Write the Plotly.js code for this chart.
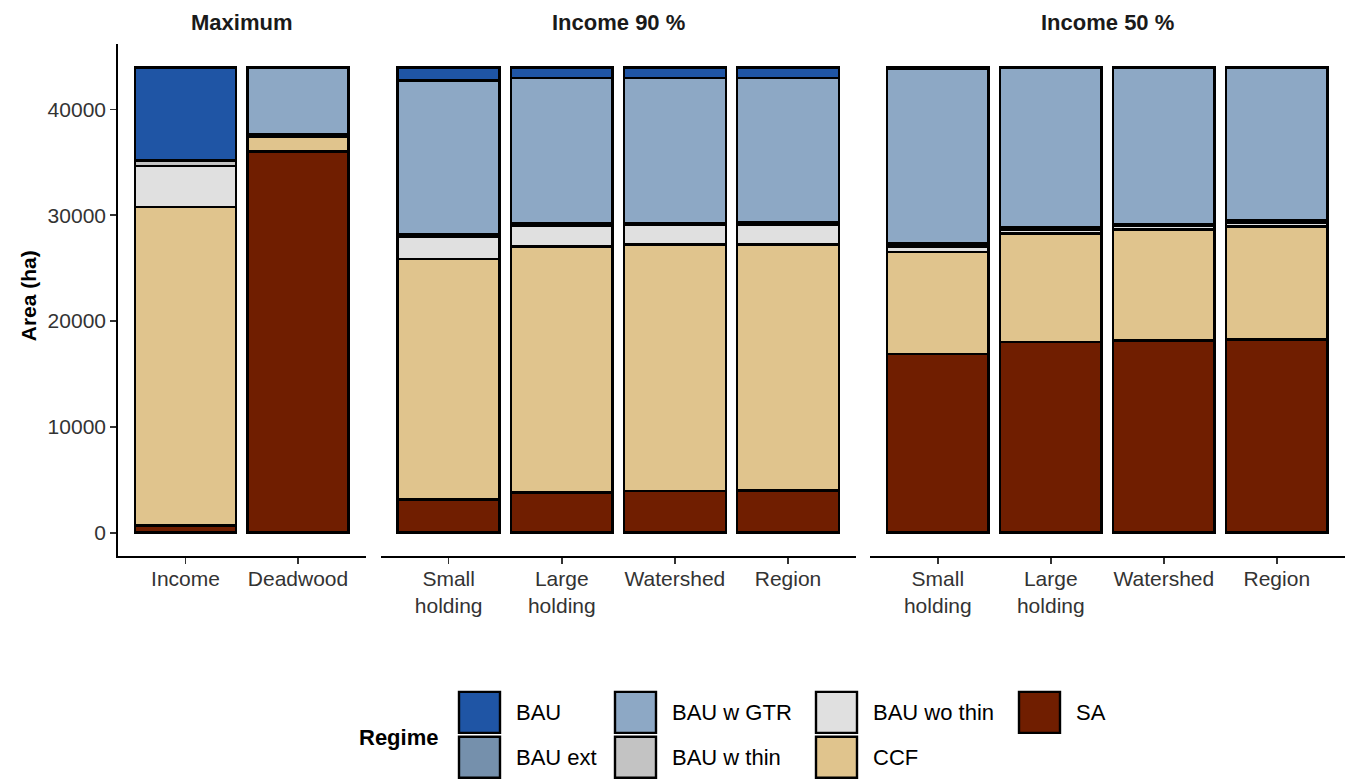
<!DOCTYPE html>
<html>
<head>
<meta charset="utf-8">
<script src="https://cdn.plot.ly/plotly-3.0.1.min.js"></script>
<style>html,body{margin:0;padding:0;background:#fff;}#chart{width:1347px;height:780px;}</style>
</head>
<body>
<div id="chart"></div>
<script>
// ---- data ----
const regimes = ["BAU", "BAU ext", "BAU w GTR", "BAU w thin", "BAU wo thin", "CCF", "SA"];
const regimeColors = ["#1F55A5", "#7590AC", "#8DA8C5", "#C3C3C3", "#E0E0E0", "#E0C48D", "#701E00"];
const panelTitles = ["Maximum", "Income 90 %", "Income 50 %"];

const maxCats = ["Income", "Deadwood"];
const inc90Cats = ["Small<br>holding", "Large<br>holding", "Watershed", "Region"];
const inc50Cats = ["Small<br>holding", "Large<br>holding", "Watershed", "Region"];

// Maximum panel (ha)
const maxBAU      = [8785, null];
const maxBAUext   = [null, null];
const maxGTR      = [null, 6355];
const maxWThin    = [530, null];
const maxWoThin   = [3900, 160];
const maxCCF      = [30060, 1420];
const maxSA       = [700, 36040];

// Income 90 % panel (ha)
const i90BAU      = [1225, 1010, 1010, 1010];
const i90BAUext   = [null, null, null, null];
const i90GTR      = [14520, 13765, 13700, 13655];
const i90WThin    = [230, 145, 165, 160];
const i90WoThin   = [2130, 2010, 1870, 1890];
const i90CCF      = [22745, 23250, 23300, 23275];
const i90SA       = [3125, 3795, 3930, 3985];

// Income 50 % panel (ha)
const i50BAU      = [180, 60, 60, 60];
const i50BAUext   = [null, null, null, null];
const i50GTR      = [16450, 15110, 14780, 14450];
const i50WThin    = [285, 140, 140, 140];
const i50WoThin   = [535, 380, 380, 380];
const i50CCF      = [9635, 10290, 10460, 10700];
const i50SA       = [16900, 18010, 18170, 18260];

const yTicks = [0, 10000, 20000, 30000, 40000];

// ---- build ----
const W = 1347, H = 780, TOP = 43.5, BOT = 556;
const px = x => x / W;
const py = y => (BOT - y) / (BOT - TOP);

const panels = [
  {cats: maxCats, xa: 'x', ya: 'y', vals: {"BAU": maxBAU, "BAU ext": maxBAUext, "BAU w GTR": maxGTR, "BAU w thin": maxWThin, "BAU wo thin": maxWoThin, "CCF": maxCCF, "SA": maxSA}},
  {cats: inc90Cats, xa: 'x2', ya: 'y2', vals: {"BAU": i90BAU, "BAU ext": i90BAUext, "BAU w GTR": i90GTR, "BAU w thin": i90WThin, "BAU wo thin": i90WoThin, "CCF": i90CCF, "SA": i90SA}},
  {cats: inc50Cats, xa: 'x3', ya: 'y3', vals: {"BAU": i50BAU, "BAU ext": i50BAUext, "BAU w GTR": i50GTR, "BAU w thin": i50WThin, "BAU wo thin": i50WoThin, "CCF": i50CCF, "SA": i50SA}}
];

const traces = [];
panels.forEach(p => {
  // stack bottom to top: SA first ... BAU last
  for (let i = regimes.length - 1; i >= 0; i--) {
    const r = regimes[i];
    traces.push({
      type: 'bar', name: r, x: p.cats, y: p.vals[r], xaxis: p.xa, yaxis: p.ya,
      marker: {color: regimeColors[i], line: {color: '#000', width: 2.6}},
      showlegend: false, hoverinfo: 'x+y+name'
    });
  }
});

const fontFam = 'Liberation Sans, Arial, sans-serif';
const tickFont = {family: fontFam, size: 21, color: '#333'};
const xBase = {type: 'category', showline: true, linecolor: '#000', linewidth: 1.8, ticks: 'outside',
  ticklen: 6, tickwidth: 1.6, tickcolor: '#333', showgrid: false, zeroline: false, tickfont: tickFont,
  ticklabelstandoff: -3, fixedrange: true};

const layout = {
  width: W, height: H,
  margin: {l: 0, r: 0, t: TOP, b: H - BOT, pad: 0},
  barmode: 'stack', bargap: 0.1,
  plot_bgcolor: '#fff', paper_bgcolor: '#fff',
  font: {family: fontFam, size: 21, color: '#333'},
  showlegend: false,
  xaxis: Object.assign({}, xBase, {domain: [px(118), px(365.5)], range: [-0.6, maxCats.length - 0.4], anchor: 'y'}),
  xaxis2: Object.assign({}, xBase, {domain: [px(380.8), px(855.9)], range: [-0.6, inc90Cats.length - 0.4], anchor: 'y2'}),
  xaxis3: Object.assign({}, xBase, {domain: [px(870), px(1344.6)], range: [-0.6, inc50Cats.length - 0.4], anchor: 'y3'}),
  yaxis: {domain: [0, 1], range: [-2199, 46179], showline: true, linecolor: '#000', linewidth: 1.8,
    ticks: 'outside', ticklen: 6, tickwidth: 1.6, tickcolor: '#333', tickvals: yTicks, tickformat: 'd',
    showgrid: false, zeroline: false, tickfont: tickFont, anchor: 'x', fixedrange: true},
  yaxis2: {matches: 'y', anchor: 'x2', domain: [0, 1], showline: false, showticklabels: false, ticks: '', showgrid: false, zeroline: false},
  yaxis3: {matches: 'y', anchor: 'x3', domain: [0, 1], showline: false, showticklabels: false, ticks: '', showgrid: false, zeroline: false},
  shapes: [],
  annotations: []
};

// facet titles
const titleX = [241.75, 618.3, 1107.3];
panelTitles.forEach((t, i) => {
  layout.annotations.push({text: '<b>' + t + '</b>', xref: 'paper', yref: 'paper', x: px(titleX[i]), y: py(22),
    xanchor: 'center', yanchor: 'middle', showarrow: false, font: {family: fontFam, size: 22, color: '#1a1a1a'}});
});

// y axis title
layout.annotations.push({text: '<b>Area (ha)</b>', xref: 'paper', yref: 'paper', x: px(28), y: py(296),
  xanchor: 'center', yanchor: 'middle', textangle: -90, showarrow: false, font: {family: fontFam, size: 21, color: '#000'}});

// legend (drawn manually, ggplot style: filled by column, 2 rows)
layout.annotations.push({text: '<b>Regime</b>', xref: 'paper', yref: 'paper', x: px(357), y: py(738),
  xanchor: 'left', yanchor: 'middle', showarrow: false, font: {family: fontFam, size: 22, color: '#000'}});
const colKeyX = [459, 615, 816, 1019];
const rowKeyY = [692, 737];
const keySize = 41;
regimes.forEach((r, i) => {
  const c = Math.floor(i / 2), row = i % 2;
  const x0 = colKeyX[c], y0 = rowKeyY[row];
  layout.shapes.push({type: 'rect', xref: 'paper', yref: 'paper', x0: px(x0), x1: px(x0 + keySize),
    y0: py(y0), y1: py(y0 + keySize), fillcolor: regimeColors[i], line: {color: '#000', width: 2.4}});
  layout.annotations.push({text: r, xref: 'paper', yref: 'paper', x: px(x0 + keySize + 14), y: py(y0 + keySize / 2),
    xanchor: 'left', yanchor: 'middle', showarrow: false, font: {family: fontFam, size: 22, color: '#000'}});
});

Plotly.newPlot('chart', traces, layout, {displayModeBar: false, staticPlot: true});
</script>
</body>
</html>
